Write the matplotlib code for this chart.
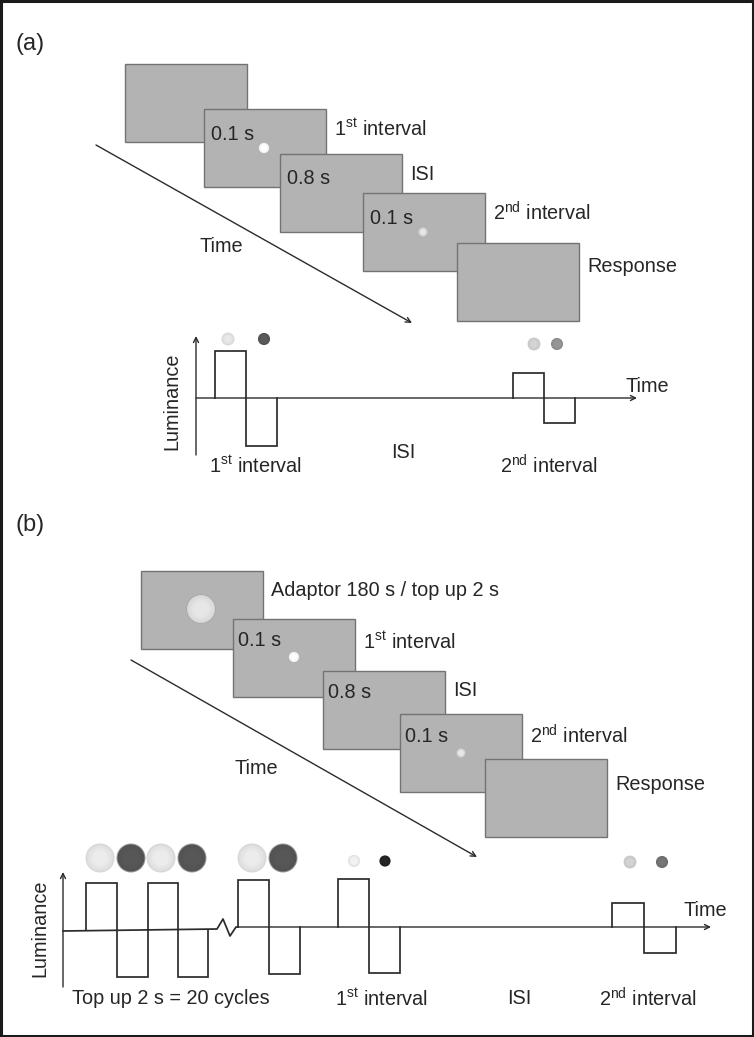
import matplotlib
matplotlib.use("Agg")
import matplotlib.pyplot as plt
from matplotlib.patches import Rectangle, Circle

plt.rcParams['font.family'] = ['Liberation Sans', 'DejaVu Sans']
plt.rcParams['mathtext.fontset'] = 'custom'
plt.rcParams['mathtext.rm'] = 'Liberation Sans'

# --- content -------------------------------------------------------------
panel_labels = ['(a)', '(b)']
a_screen_text = ['', '0.1 s', '0.8 s', '0.1 s', '']
a_side_text = ['', r'1$^{\rm st}$ interval', 'ISI', r'2$^{\rm nd}$ interval', 'Response']
b_screen_text = ['', '0.1 s', '0.8 s', '0.1 s', '']
b_side_text = ['Adaptor 180 s / top up 2 s', r'1$^{\rm st}$ interval', 'ISI',
               r'2$^{\rm nd}$ interval', 'Response']
# luminance pulses: (start, half width, up amplitude, down amplitude)
a_pulses = [(215, 31, 47, 48), (513, 31, 25, 25)]
b_pulses = [(86, 31, 47, 47), (148, 30, 47, 47), (238, 31, 47, 47),
            (338, 31, 48, 46), (612, 32, 24, 26)]
a_wave_labels = [r'1$^{\rm st}$ interval', 'ISI', r'2$^{\rm nd}$ interval']
b_wave_labels = ['Top up 2 s = 20 cycles', r'1$^{\rm st}$ interval', 'ISI',
                 r'2$^{\rm nd}$ interval']
adapt_kinds = 'LDLDLD'   # light / dark adaptor phases shown above the top-up wave

W, H = 754, 1037
fig = plt.figure(figsize=(W / 100, H / 100), dpi=100)
ax = fig.add_axes([0, 0, 1, 1])
ax.set_xlim(0, W)
ax.set_ylim(H, 0)
ax.axis('off')

LC = '#2b2b2b'
TC = '#262626'
FS = 14.3


def screen(x, y, w=122, h=78):
    ax.add_patch(Rectangle((x, y), w, h, facecolor='#b3b3b3', edgecolor='#737373', lw=1.0))


def hexrgb(h):
    return [int(h[i:i + 2], 16) / 255 for i in (1, 3, 5)]


def soft_disc(x, y, r, inner, outer, rim=None):
    # crude radial gradient with a few concentric discs
    if rim:
        ax.add_patch(Circle((x, y), r, facecolor=rim, edgecolor='none', alpha=0.55))
    inner, outer = hexrgb(inner), hexrgb(outer)
    n = 6
    for i in range(n):
        f = i / (n - 1)
        rr = r * (0.93 - 0.4 * f)
        c = [outer[k] + (inner[k] - outer[k]) * f for k in range(3)]
        ax.add_patch(Circle((x, y), rr, facecolor=c, edgecolor='none'))


def pulse(x0, w, up, down, base):
    xs = [x0, x0, x0 + w, x0 + w, x0 + 2 * w, x0 + 2 * w]
    ys = [base, base - up, base - up, base + down, base + down, base]
    ax.plot(xs, ys, color=LC, lw=1.25, solid_joinstyle='miter')


def arrow(x0, y0, x1, y1, lw=1.0):
    ax.annotate('', xy=(x1, y1), xytext=(x0, y0),
                arrowprops=dict(arrowstyle='->', color=LC, lw=lw,
                                shrinkA=0, shrinkB=0, mutation_scale=9))


# outer frame
ax.add_patch(Rectangle((1, 1), W - 2, H - 2, fill=False, edgecolor='#1a1a1a', lw=2.2))

# ================= panel (a) =================
ax.text(30, 44, panel_labels[0], fontsize=17, ha='center', va='center', color=TC)

a_rects = [(125, 64), (204, 109), (280, 154), (363, 193), (457, 243)]
arrow(96, 145, 412, 323)
for (x, y), st, side in zip(a_rects, a_screen_text, a_side_text):
    screen(x, y)
    if st:
        ax.text(x + 7, y + 25, st, fontsize=FS, va='center', ha='left', color=TC)
    if side:
        ax.text(x + 130, y + 20 if side != 'Response' else y + 23, side,
                fontsize=FS, va='center', ha='left', color=TC)
soft_disc(264, 148, 5.5, '#ffffff', '#f4f4f4')
soft_disc(423, 232, 5, '#e8e8e8', '#c6c6c6')
ax.text(221, 247, 'Time', fontsize=FS, ha='center', va='center', color=TC)

# luminance plot (a)
base_a = 398
arrow(196, 455, 196, 336)
arrow(196, base_a, 637, base_a)
for x0, w, up, dn in a_pulses:
    pulse(x0, w, up, dn, base_a)
soft_disc(228, 339, 6.5, '#e8e8e8', '#dadada', '#c4c4c4')
soft_disc(264, 339, 6.5, '#5a5a5a', '#525252')
soft_disc(534, 344, 6.5, '#d4d4d4', '#c6c6c6', '#b4b4b4')
soft_disc(557, 344, 6.5, '#969696', '#8c8c8c')
ax.text(647, 386, 'Time', fontsize=FS, ha='center', va='center', color=TC)
ax.text(172, 401, 'Luminance', fontsize=FS, rotation=90, ha='center', va='center', color=TC)
for txt, x, y in zip(a_wave_labels, [255, 403, 549], [466, 452, 466]):
    ax.text(x, y, txt, fontsize=FS, ha='center', va='center', color=TC)

# ================= panel (b) =================
ax.text(30, 525, panel_labels[1], fontsize=17, ha='center', va='center', color=TC)

b_rects = [(141, 571), (233, 619), (323, 671), (400, 714), (485, 759)]
arrow(131, 660, 477, 857)
for i, ((x, y), st, side) in enumerate(zip(b_rects, b_screen_text, b_side_text)):
    screen(x, y)
    if st:
        ax.text(x + 5, y + 22, st, fontsize=FS, va='center', ha='left', color=TC)
    dy = [20, 23, 20, 22, 26][i]
    ax.text(x + 130, y + dy, side, fontsize=FS, va='center', ha='left', color=TC)
soft_disc(201, 609, 15, '#e6e6e6', '#d8d8d8', '#a4a4a4')
soft_disc(294, 657, 5.5, '#ffffff', '#f0f0f0')
soft_disc(461, 753, 5, '#e8e8e8', '#c6c6c6')
ax.text(256, 768, 'Time', fontsize=FS, ha='center', va='center', color=TC)

# luminance plot (b)
arrow(63, 987, 63, 872)
ax.plot([63, 217, 223, 230, 236, 238], [931, 929, 919, 936, 927, 927], color=LC, lw=1.25)
arrow(238, 927, 711, 927)
for x0, w, up, dn in b_pulses:
    base = 930 if x0 < 217 else 927
    pulse(x0, w, up, dn, base)
for x, kind in zip([100, 131, 161, 192, 252, 283], adapt_kinds):
    if kind == 'L':
        soft_disc(x, 858, 14.5, '#ececec', '#dedede', '#b4b4b4')
    else:
        soft_disc(x, 858, 14.5, '#575757', '#525252', '#444444')
soft_disc(354, 861, 6, '#f2f2f2', '#e6e6e6', '#bdbdbd')
soft_disc(385, 861, 6, '#262626', '#222222')
soft_disc(630, 862, 6.5, '#d4d4d4', '#c6c6c6', '#b4b4b4')
soft_disc(662, 862, 6.5, '#767676', '#6e6e6e')
ax.text(705, 910, 'Time', fontsize=FS, ha='center', va='center', color=TC)
ax.text(40, 928, 'Luminance', fontsize=FS, rotation=90, ha='center', va='center', color=TC)
for txt, x in zip(b_wave_labels, [171, 381, 519, 648]):
    ax.text(x, 999, txt, fontsize=FS, ha='center', va='center', color=TC)

fig.savefig('out.png', dpi=100, facecolor='white')
